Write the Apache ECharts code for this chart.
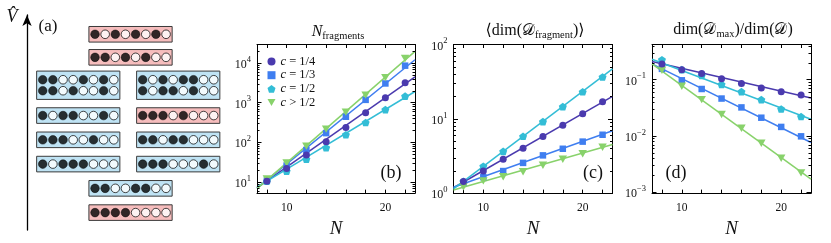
<!DOCTYPE html>
<html><head><meta charset="utf-8">
<script src="https://cdn.jsdelivr.net/npm/echarts@6/dist/echarts.min.js"></script>
<style>html,body{margin:0;padding:0;background:#fff}#c{width:831px;height:243px}</style>
</head><body><div id="c"></div>
<script>
// ---------- data ----------
const N = [8, 10, 12, 14, 16, 18, 20, 22];
const fitN = [7, 23];
const seriesNames = ['c = 1/4', 'c = 1/3', 'c = 1/2', 'c > 1/2'];

// (b) number of fragments
const fragQuarter = [10.4, 22, 48, 103, 236, 553, 1320, 3150];
const fragThird   = [10.9, 26, 64, 170, 440, 1170, 3030, 8500];
const fragHalf    = [10.4, 18.7, 37.6, 73, 155, 314, 665, 1450];
const fragAbove   = [12, 30, 80, 214, 573, 1540, 4260, 12900];
const fitFragQuarter = [7.1, 4430];
const fitFragThird   = [7.0, 12000];
const fitFragHalf    = [7.4, 1900];
const fitFragAbove   = [6.8, 19500];

// (c) mean fragment dimension
const dimQuarter = [1.43, 1.98, 2.85, 4.03, 5.8, 8.2, 11.7, 16.9];
const dimThird   = [1.38, 1.64, 1.98, 2.55, 3.22, 3.95, 4.93, 6.1];
const dimHalf    = [1.44, 2.3, 3.64, 5.81, 9.17, 14.6, 23.1, 36.5];
const dimAbove   = [1.22, 1.46, 1.66, 1.94, 2.37, 2.85, 3.39, 4.15];
const fitDimQuarter = [1.18, 20];
const fitDimThird   = [1.2, 6.9];
const fitDimHalf    = [1.14, 47];
const fitDimAbove   = [1.1, 4.5];

// (d) largest fragment fraction
const ratioQuarter = [0.19, 0.15, 0.128, 0.103, 0.085, 0.071, 0.061, 0.053];
const ratioThird   = [0.155, 0.097, 0.068, 0.046, 0.032, 0.021, 0.0144, 0.0098];
const ratioHalf    = [0.225, 0.15, 0.118, 0.082, 0.061, 0.044, 0.030, 0.022];
const ratioAbove   = [0.146, 0.076, 0.044, 0.024, 0.0136, 0.0074, 0.0040, 0.0022];
const fitRatioQuarter = [0.21, 0.047];
const fitRatioThird   = [0.19, 0.0076];
const fitRatioHalf    = [0.23, 0.0197];
const fitRatioAbove   = [0.19, 0.0017];

// (a) configurations
const boxConfigs = [['10101010'], ['11010100'], ['11001010', '11010010'], ['10101100', '10110100'],
  ['10110010'], ['11101000'], ['11100100'], ['11011000'], ['10111000'], ['11100010'], ['11001100'], ['11110000']];
const boxColumn = ['C', 'C', 'L', 'R', 'L', 'R', 'L', 'R', 'L', 'R', 'C', 'C'];
const boxLevel  = [7.35, 6.4, 5.25, 5.25, 4, 4, 3, 3, 2, 2, 1, 0];
const boxKind   = ['pink', 'pink', 'blue', 'blue', 'blue', 'pink', 'blue', 'blue', 'blue', 'blue', 'blue', 'pink'];

// tick labels
const xTickLabels = [10, 20];
const minorMant = [2, 3, 4, 5, 6, 7, 8, 9];

// ---------- styles ----------
const FONT = "'Liberation Serif', 'DejaVu Serif', serif";
const colors = ['#4a3aae', '#3f7ef0', '#33bdd6', '#88d26b'];
const PENT = 'path://M0,-1 L0.951,-0.309 L0.588,0.809 L-0.588,0.809 L-0.951,-0.309 Z';
const TRID = 'path://M0,0 L10,0 L5,8.7 Z';
const symbols = ['circle', 'rect', PENT, TRID];
const symSizes = [7, 6.5, [8, 7.6], [8.5, 7.4]];

const grids = [
  { left: 27, top: 15, width: 203, height: 215 },
  { left: 257, top: 44.5, width: 158, height: 150 },
  { left: 453.5, top: 44.5, width: 159, height: 150 },
  { left: 652, top: 44.5, width: 159, height: 150 }
];
const yRanges = [null, [5.25, 29000], [1, 100], [0.00096, 0.42]];

function powLabel(v) {
  const e = Math.log10(v), r = Math.round(e);
  if (Math.abs(e - r) > 1e-6) return '';
  return '{b|10}{s|' + (r < 0 ? '\u2212' + (-r) : r) + '}';
}
const labelRich = {
  b: { fontFamily: FONT, fontSize: 12, color: '#111', lineHeight: 16, verticalAlign: 'bottom' },
  s: { fontFamily: FONT, fontSize: 8.5, color: '#111', lineHeight: 16, verticalAlign: 'top' }
};

const xAxes = [{ gridIndex: 0, type: 'value', min: 0, max: 20, show: false }];
const yAxes = [{
  gridIndex: 0, type: 'value', min: -0.717, max: 8.145,
  axisLine: { show: true, onZero: false, symbol: ['none', 'arrow'], symbolSize: [7, 11], lineStyle: { color: '#000', width: 1.3 } },
  axisTick: { show: false }, axisLabel: { show: false }, splitLine: { show: false }
}];
for (let g = 1; g <= 3; g++) {
  ['bottom', 'top'].forEach((pos, k) => {
    xAxes.push({
      gridIndex: g, type: 'value', position: pos, min: 7, max: 23,
      splitNumber: 8, minInterval: 2, maxInterval: 2,
      axisLine: { show: true, onZero: false, lineStyle: { color: '#000', width: 1 } },
      axisTick: { show: true, inside: true, length: 3.5, lineStyle: { color: '#000' } },
      axisLabel: k === 0 ? {
        show: true, margin: 9, fontFamily: FONT, fontSize: 11.5, color: '#111',
        formatter: v => xTickLabels.includes(v) ? String(v) : ''
      } : { show: false },
      splitLine: { show: false },
      name: k === 0 ? 'N' : '', nameLocation: 'middle', nameGap: 20,
      nameTextStyle: { fontFamily: FONT, fontStyle: 'italic', fontSize: 19, color: '#111' }
    });
  });
  ['left', 'right'].forEach((pos, k) => {
    yAxes.push({
      gridIndex: g, type: 'log', logBase: 10, position: pos, min: yRanges[g][0], max: yRanges[g][1],
      axisLine: { show: true, onZero: false, lineStyle: { color: '#000', width: 1 } },
      axisTick: { show: true, inside: true, length: 4.5, lineStyle: { color: '#000' } },
      axisLabel: k === 0 ? { show: true, margin: 6, formatter: powLabel, rich: labelRich } : { show: false },
      splitLine: { show: false }, minorTick: { show: false }
    });
  });
}

// ---------- series ----------
const series = [];
// (a) boxes and circles
const colOffset = { L: 1.55, C: 6.70, R: 11.40 };
const lineStep = 0.453;
const boxData = [], filled = [], empty = [];
boxConfigs.forEach((lines, b) => {
  const x0 = colOffset[boxColumn[b]];
  const n = lines.length;
  boxData.push([x0 + 3.5, boxLevel[b], 8.2, n === 1 ? 0.643 : 1.167, boxKind[b] === 'blue' ? 1 : 0]);
  lines.forEach((bits, j) => {
    const y = boxLevel[b] + (n - 1) / 2 * lineStep - j * lineStep;
    bits.split('').forEach((ch, i) => (ch === '1' ? filled : empty).push([x0 + i, y]));
  });
});
series.push({
  type: 'custom', xAxisIndex: 0, yAxisIndex: 0, data: boxData, silent: true, z: 1,
  renderItem: function (params, api) {
    const c = api.coord([api.value(0), api.value(1)]);
    const s = api.size([1, 1]);
    const w = api.value(2) * s[0], h = api.value(3) * s[1];
    return {
      type: 'rect', shape: { x: c[0] - w / 2, y: c[1] - h / 2, width: w, height: h },
      style: { fill: api.value(4) ? '#bfe3f4' : '#f6bdbd', stroke: '#3a3a3a', lineWidth: 1 }
    };
  }
});
series.push({ type: 'scatter', xAxisIndex: 0, yAxisIndex: 0, data: filled, symbol: 'circle', symbolSize: 8.6,
  itemStyle: { color: '#000', borderColor: '#000', borderWidth: 0.6 }, silent: true, z: 3 });
series.push({ type: 'scatter', xAxisIndex: 0, yAxisIndex: 0, data: empty, symbol: 'circle', symbolSize: 8.6,
  itemStyle: { color: '#fff', borderColor: '#000', borderWidth: 0.9 }, silent: true, z: 3 });

const panels = [
  { pts: [fragQuarter, fragThird, fragHalf, fragAbove], fits: [fitFragQuarter, fitFragThird, fitFragHalf, fitFragAbove] },
  { pts: [dimQuarter, dimThird, dimHalf, dimAbove], fits: [fitDimQuarter, fitDimThird, fitDimHalf, fitDimAbove] },
  { pts: [ratioQuarter, ratioThird, ratioHalf, ratioAbove], fits: [fitRatioQuarter, fitRatioThird, fitRatioHalf, fitRatioAbove] }
];
panels.forEach((p, pi) => {
  const g = pi + 1, xi = 2 * g - 1, yi = 2 * g - 1;
  const [lo, hi] = yRanges[g];
  const minor = [];
  for (let e = -4; e <= 5; e++) minorMant.forEach(m => { const v = m * Math.pow(10, e); if (v > lo && v < hi) minor.push([7, v]); });
  series.push({
    type: 'custom', xAxisIndex: xi, yAxisIndex: yi, data: minor, silent: true, z: 5,
    renderItem: function (params, api) {
      const v = api.value(1);
      const pl = api.coord([7, v]), pr = api.coord([23, v]);
      const y = Math.round(pl[1]) + 0.5;
      return { type: 'group', children: [
        { type: 'line', shape: { x1: pl[0], y1: y, x2: pl[0] + 2.5, y2: y }, style: { stroke: '#000', lineWidth: 1 } },
        { type: 'line', shape: { x1: pr[0], y1: y, x2: pr[0] - 2.5, y2: y }, style: { stroke: '#000', lineWidth: 1 } }
      ] };
    }
  });
  p.fits.forEach((f, k) => {
    series.push({
      type: 'line', xAxisIndex: xi, yAxisIndex: yi, data: fitN.map((x, i) => [x, f[i]]),
      showSymbol: false, symbol: 'none', silent: true, z: 2,
      lineStyle: { color: colors[k], width: 1.5 }, itemStyle: { color: colors[k] }
    });
  });
  p.pts.forEach((vals, k) => {
    series.push({
      type: 'scatter', name: seriesNames[k], xAxisIndex: xi, yAxisIndex: yi,
      data: N.map((x, i) => [x, vals[i]]), symbol: symbols[k], symbolSize: symSizes[k],
      itemStyle: { color: colors[k], opacity: 1 }, z: 3 + (k === 0 ? 1 : 0)
    });
  });
});

// ---------- text ----------
const titleRich = {
  n: { fontFamily: FONT, fontSize: 16, color: '#111', lineHeight: 20 },
  i: { fontFamily: FONT, fontSize: 16, fontStyle: 'italic', color: '#111', lineHeight: 20 },
  d: { fontFamily: FONT, fontSize: 16, color: '#111', lineHeight: 20 },
  s: { fontFamily: FONT, fontSize: 10.5, color: '#111', lineHeight: 20, verticalAlign: 'bottom' }
};
function txt(x, y, text, size, extra) {
  return Object.assign({ type: 'text', x: x, y: y, silent: true,
    style: Object.assign({ text: text, fontFamily: FONT, fontSize: size, fill: '#111', align: 'center', verticalAlign: 'middle' }, extra || {}) });
}
const graphic = [
  txt(12, 17, 'V\u0302', 18, { fontStyle: 'italic' }),
  txt(48, 27, '(a)', 17),
  txt(338, 32, '{i|N}{s|fragments}', 16, { rich: titleRich }),
  txt(535, 31, '{n|\u27E8dim(}{d|\uD835\uDC9F}{s|fragment}{n|)\u27E9}', 16, { rich: titleRich }),
  txt(733, 30, '{n|dim(}{d|\uD835\uDC9F}{s|max}{n|)/dim(}{d|\uD835\uDC9F}{n|)}', 16, { rich: titleRich }),
  txt(391, 173, '(b)', 18),
  txt(593, 173, '(c)', 18),
  txt(676, 173, '(d)', 18)
];

const chart = echarts.init(document.getElementById('c'), null, { renderer: 'canvas' });
chart.setOption({
  animation: false,
  backgroundColor: '#fff',
  grid: grids,
  xAxis: xAxes,
  yAxis: yAxes,
  legend: {
    data: seriesNames, orient: 'vertical', left: 267.5, top: 55,
    itemWidth: 8, itemHeight: 8, itemGap: 0.7, padding: 0, selectedMode: false,
    textStyle: { fontFamily: FONT, fontSize: 12.5, color: '#111', lineHeight: 11,
      rich: { i: { fontFamily: FONT, fontSize: 12.5, fontStyle: 'italic', color: '#111', lineHeight: 11 },
              r: { fontFamily: FONT, fontSize: 12.5, color: '#111', lineHeight: 11 } } },
    formatter: name => '{i|c}{r|' + name.slice(1) + '}'
  },
  graphic: graphic,
  series: series
});
</script></body></html>
